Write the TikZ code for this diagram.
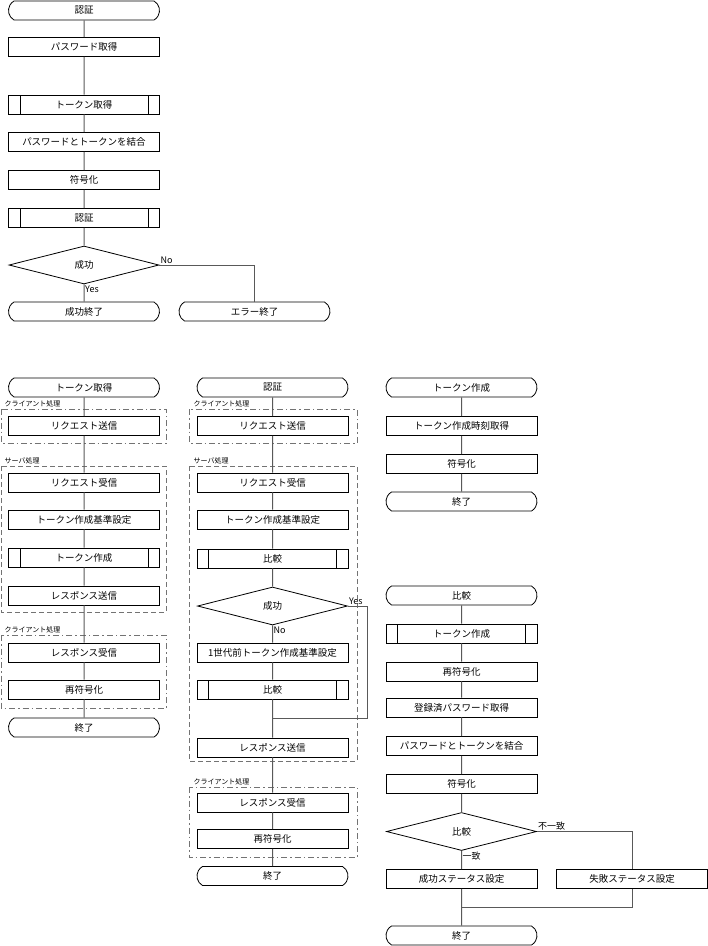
\documentclass[tikz,border=0pt]{standalone}
\usepackage{fontspec}
\setmainfont{Noto Sans CJK JP}
\usepackage{tikz}
\usetikzlibrary{shapes.misc,shapes.geometric,calc}

\begin{document}
\begin{tikzpicture}[x=1pt,y=-1pt,
  font=\fontsize{9.5}{11}\selectfont,
  box/.style={draw=black,line width=0.8pt,minimum width=151pt,minimum height=19pt,inner sep=0pt,align=center},
  term/.style={box,rounded rectangle,rounded rectangle arc length=120},
  proc/.style={box,rectangle},
  predef/.style={proc,path picture={
    \draw[line width=0.8pt] ([xshift=11.5pt]path picture bounding box.north west) -- ([xshift=11.5pt]path picture bounding box.south west)
      ([xshift=-11.5pt]path picture bounding box.north east) -- ([xshift=-11.5pt]path picture bounding box.south east);}},
  decide/.style={draw=black,line width=0.8pt,diamond,aspect=4,minimum width=150pt,minimum height=38pt,inner sep=0pt},
  line/.style={draw=black!65,line width=1pt},
  lbl/.style={inner sep=1pt,font=\fontsize{9}{10}\selectfont},
  client/.style={draw=black!55,line width=1pt,dash pattern=on 6pt off 3pt on 1.5pt off 3pt},
  server/.style={draw=black!55,line width=1pt,dash pattern=on 5pt off 3pt},
  grp/.style={above right,inner sep=0.5pt,font=\fontsize{7}{8}\selectfont}]
\useasboundingbox (0,0) rectangle (708,946);

\draw[client] (1,409) rectangle (166,443);
\node[grp] (bg1) at (4,408) {クライアント処理};
\draw[server] (1,466) rectangle (166,612);
\node[grp] (bg2) at (4,465) {サーバ処理};
\draw[client] (1,635) rectangle (166,708);
\node[grp] (bg3) at (4,634) {クライアント処理};

\draw[client] (189,409) rectangle (357,443);
\node[grp] (cg1) at (193,408) {クライアント処理};
\draw[server] (189,466) rectangle (357,761);
\node[grp] (cg2) at (193,465) {サーバ処理};
\draw[client] (189,787) rectangle (357,857);
\node[grp] (cg3) at (193,786) {クライアント処理};

\node[term] (a0) at (84,10.5) {認証};
\node[proc] (a1) at (84,47) {パスワード取得};
\node[predef] (a2) at (84,104.5) {トークン取得};
\node[proc] (a3) at (84,142) {パスワードとトークンを結合};
\node[proc] (a4) at (84,180) {符号化};
\node[predef] (a5) at (84,218) {認証};
\node[decide] (a6) at (84,265) {成功};
\node[term] (a7) at (84,311.5) {成功終了};
\node[term] (a8) at (254.5,311.5) {エラー終了};
\draw[line] (a0) -- (a1) -- (a2) -- (a3) -- (a4) -- (a5) -- (a6) -- (a7);
\draw[line] (a6.east) -| (a8.north);
\node[lbl,above right] (a6n) at (a6.east) {No};
\node[lbl,below right] (a6y) at (a6.south) {Yes};

\node[term] (b0) at (84,387.5) {トークン取得};
\node[proc] (b1) at (84,426) {リクエスト送信};
\node[proc] (b2) at (84,482.5) {リクエスト受信};
\node[proc] (b3) at (84,519.5) {トークン作成基準設定};
\node[predef] (b4) at (84,557.5) {トークン作成};
\node[proc] (b5) at (84,595.5) {レスポンス送信};
\node[proc] (b6) at (84,652.5) {レスポンス受信};
\node[proc] (b7) at (84,689.5) {再符号化};
\node[term] (b8) at (84,727.5) {終了};
\draw[line] (b0) -- (b1) -- (b2) -- (b3) -- (b4) -- (b5) -- (b6) -- (b7) -- (b8);

\node[term] (c0) at (272.5,387.5) {認証};
\node[proc] (c1) at (272.5,426) {リクエスト送信};
\node[proc] (c2) at (272.5,482.5) {リクエスト受信};
\node[proc] (c3) at (272.5,519.5) {トークン作成基準設定};
\node[predef] (c4) at (272.5,558.5) {比較};
\node[decide] (c5) at (272.5,606) {成功};
\node[proc] (c6) at (272.5,652.5) {1世代前トークン作成基準設定};
\node[predef] (c7) at (272.5,689.5) {比較};
\coordinate (cy) at (367,718);
\coordinate (cj) at (272.5,718);
\node[proc] (c8) at (272.5,747.5) {レスポンス送信};
\node[proc] (c9) at (272.5,802.5) {レスポンス受信};
\node[proc] (c10) at (272.5,839) {再符号化};
\node[term] (c11) at (272.5,876) {終了};
\draw[line] (c0) -- (c1) -- (c2) -- (c3) -- (c4) -- (c5) -- (c6) -- (c7) -- (cj) -- (c8) -- (c9) -- (c10) -- (c11);
\draw[line] (c5.east) -| (cy) -- (cj);
\node[lbl,above right] (c5y) at (c5.east) {Yes};
\node[lbl,below right] (c5n) at (c5.south) {No};

\node[term] (d0) at (461.5,387.5) {トークン作成};
\node[proc] (d1) at (461.5,426) {トークン作成時刻取得};
\node[proc] (d2) at (461.5,464) {符号化};
\node[term] (d3) at (461.5,501.5) {終了};
\draw[line] (d0) -- (d1) -- (d2) -- (d3);

\node[term] (e0) at (461.5,595.5) {比較};
\node[predef] (e1) at (461.5,633.5) {トークン作成};
\node[proc] (e2) at (461.5,671.5) {再符号化};
\node[proc] (e3) at (461.5,707.5) {登録済パスワード取得};
\node[proc] (e4) at (461.5,746) {パスワードとトークンを結合};
\node[proc] (e5) at (461.5,784) {符号化};
\node[decide] (e6) at (461.5,831.5) {比較};
\node[proc] (e7) at (461.5,879) {成功ステータス設定};
\node[proc] (e8) at (632,879) {失敗ステータス設定};
\coordinate (ej) at (461.5,907);
\node[term] (e9) at (461.5,935.5) {終了};
\draw[line] (e0) -- (e1) -- (e2) -- (e3) -- (e4) -- (e5) -- (e6) -- (e7) -- (ej) -- (e9);
\draw[line] (e6.east) -| (e8.north);
\draw[line] (e8.south) |- (ej);
\node[lbl,above right] (e6n) at (e6.east) {不一致};
\node[lbl,below right] (e6y) at (e6.south) {一致};
\end{tikzpicture}
\end{document}
